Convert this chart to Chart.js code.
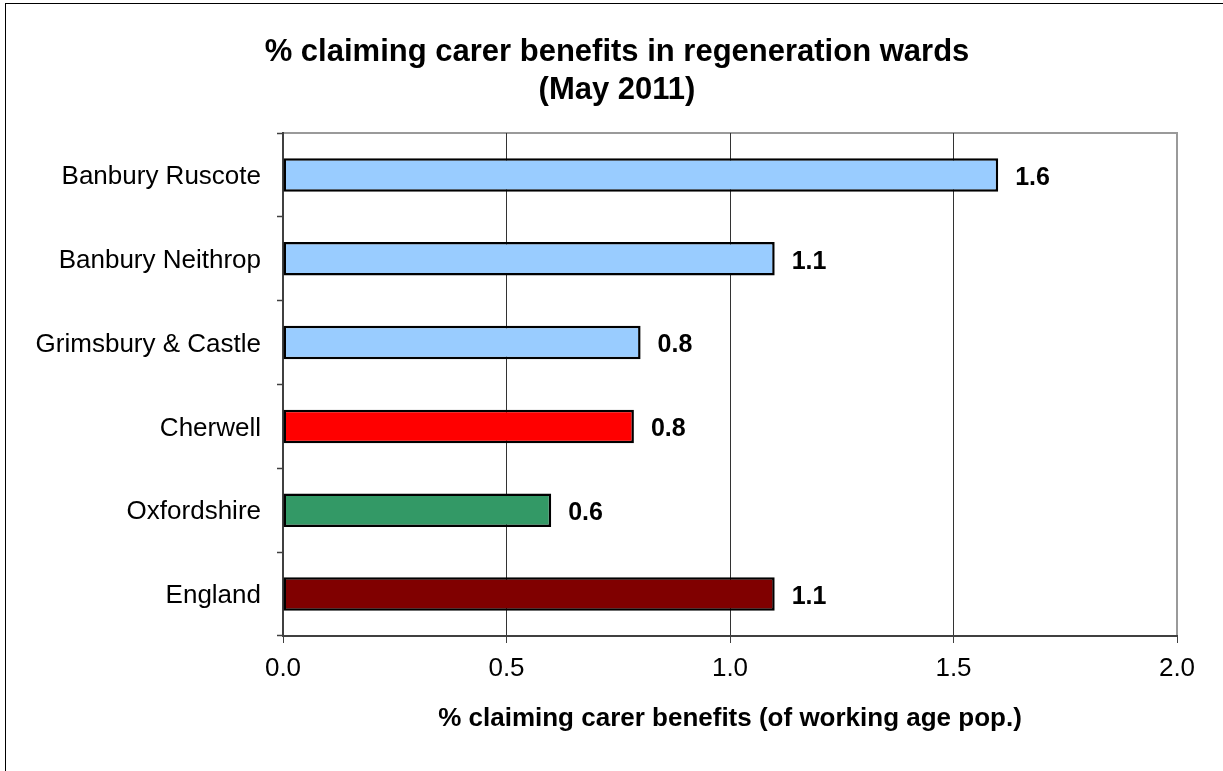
<!DOCTYPE html>
<html>
<head>
<meta charset="utf-8">
<script src="https://cdn.jsdelivr.net/npm/chart.js@4"></script>
<style>
  html, body { margin: 0; padding: 0; background: #fff; overflow: hidden; }
  #wrap { position: relative; width: 1223px; height: 771px; }
  #frame { position: absolute; left: 5px; top: 3px; width: 1400px; height: 1000px;
           border-left: 1px solid #000; border-top: 1px solid #000; pointer-events: none; }
  canvas { position: absolute; left: 0; top: 0; }
</style>
</head>
<body>
<div id="wrap">
  <canvas id="c" width="1223" height="771"></canvas>
  <div id="frame"></div>
</div>
<script>
const titleLines = ['% claiming carer benefits in regeneration wards', '(May 2011)'];
const xAxisTitle = '% claiming carer benefits (of working age pop.)';
const categories = ['Banbury Ruscote', 'Banbury Neithrop', 'Grimsbury & Castle', 'Cherwell', 'Oxfordshire', 'England'];
const values = [1.6, 1.1, 0.8, 0.785, 0.6, 1.1];
const barColors = ['#99CCFF', '#99CCFF', '#99CCFF', '#FF0000', '#339966', '#800000'];
const xTicks = [0, 0.5, 1.0, 1.5, 2.0];

const FONT = "'Liberation Sans', Arial, sans-serif";

const frameAndTitle = {
  id: 'frameAndTitle',
  beforeDraw(chart) {
    const {ctx, chartArea: a} = chart;
    ctx.save();
    ctx.fillStyle = '#fff';
    ctx.fillRect(0, 0, chart.width, chart.height);
    ctx.strokeStyle = '#9a9a9a';
    ctx.lineWidth = 2;
    ctx.beginPath();
    ctx.moveTo(a.left, a.top);
    ctx.lineTo(a.right, a.top);
    ctx.lineTo(a.right, a.bottom);
    ctx.stroke();
    ctx.restore();
  },
  afterDraw(chart) {
    const {ctx} = chart;
    ctx.save();
    ctx.fillStyle = '#000';
    ctx.font = "bold 31px " + FONT;
    ctx.textAlign = 'center';
    ctx.textBaseline = 'middle';
    ctx.fillText(titleLines[0], 617, 52);
    ctx.fillText(titleLines[1], 617, 90);
    ctx.restore();
  }
};

const valueLabels = {
  id: 'valueLabels',
  afterDatasetsDraw(chart) {
    const {ctx} = chart;
    const meta = chart.getDatasetMeta(0);
    ctx.save();
    ctx.fillStyle = '#000';
    ctx.font = "bold 25px " + FONT;
    ctx.textAlign = 'left';
    ctx.textBaseline = 'middle';
    meta.data.forEach((bar, i) => {
      ctx.fillText(values[i].toFixed(1), bar.x + 17, bar.y + 3);
    });
    ctx.restore();
  }
};

new Chart(document.getElementById('c'), {
  type: 'bar',
  data: {
    labels: categories,
    datasets: [{
      data: values,
      backgroundColor: barColors,
      borderColor: '#000',
      borderWidth: 2.5,
      borderSkipped: false,
      barPercentage: 0.4,
      categoryPercentage: 1.0
    }]
  },
  options: {
    indexAxis: 'y',
    responsive: false,
    animation: false,
    devicePixelRatio: 1,
    layout: { padding: { top: 133, right: 46, bottom: 0, left: 0 } },
    plugins: { legend: { display: false }, tooltip: { enabled: false }, title: { display: false } },
    scales: {
      x: {
        min: 0, max: 2,
        afterBuildTicks(scale) { scale.ticks = xTicks.map(v => ({ value: v })); },
        afterFit(scale) { scale.height = 135; },
        ticks: {
          color: '#000',
          font: { family: FONT, size: 26 },
          padding: 10,
          callback: v => Number(v).toFixed(1)
        },
        grid: {
          color: ctx => (ctx.tick && ctx.tick.value === 2) ? '#9a9a9a' : '#333',
          lineWidth: 1,
          tickLength: 7,
          tickColor: '#404040',
          tickWidth: 1
        },
        border: { color: '#404040', width: 2 },
        title: {
          display: true,
          text: xAxisTitle,
          color: '#000',
          font: { family: FONT, size: 26, weight: 'bold' },
          padding: { top: 0, bottom: 37 }
        }
      },
      y: {
        afterFit(scale) { scale.width = 283; },
        ticks: {
          color: '#000',
          font: { family: FONT, size: 26 },
          padding: 16,
          labelOffset: 2
        },
        grid: {
          drawOnChartArea: false,
          offset: true,
          tickLength: 6,
          tickColor: '#404040',
          tickWidth: 1.5
        },
        border: { color: '#404040', width: 2 }
      }
    }
  },
  plugins: [frameAndTitle, valueLabels]
});
</script>
</body>
</html>
